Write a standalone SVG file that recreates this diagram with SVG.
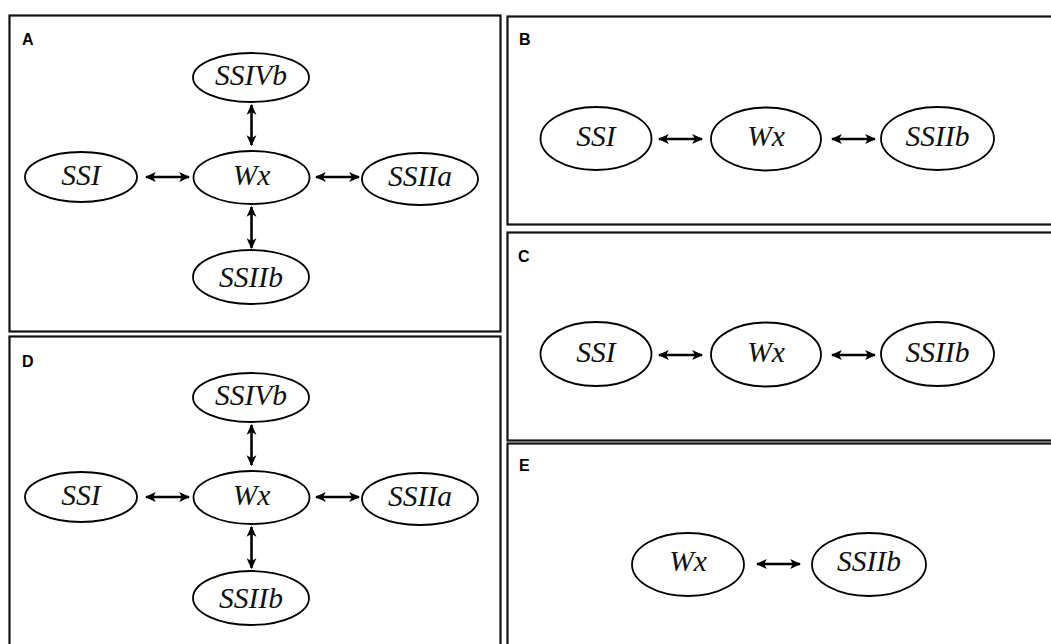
<svg xmlns="http://www.w3.org/2000/svg" width="1051" height="644" viewBox="0 0 1051 644">
  <style>
    .frame { fill: none; stroke: #111; stroke-width: 2.2; }
    .node ellipse { fill: #fff; stroke: #000; stroke-width: 1.8; }
    .node text { font-family: "Liberation Serif", "Times New Roman", serif; font-style: italic; font-size: 29.5px; fill: #111; text-anchor: middle; }
    .tag { font-family: "Liberation Sans", Arial, sans-serif; font-weight: bold; font-size: 16px; fill: #000; }
    .link { stroke: #000; stroke-width: 2.6; fill: none; marker-start: url(#head); marker-end: url(#head); }
  </style>
  <defs>
    <marker id="head" viewBox="0 0 10 10" refX="9" refY="5" markerWidth="4.2" markerHeight="4.2" orient="auto-start-reverse" markerUnits="strokeWidth">
      <path d="M0,0.5 L10,5 L0,9.5 L2.5,5 Z" fill="#000"/>
    </marker>
  </defs>
  <rect width="1051" height="644" fill="#fff"/>

  <!-- panel frames -->
  <g id="frames">
    <rect class="frame" x="9.5" y="15.5" width="491" height="316"/>
    <rect class="frame" x="9.5" y="336.5" width="491" height="320"/>
    <rect class="frame" x="507.5" y="16.5" width="560" height="208"/>
    <rect class="frame" x="507.5" y="232.5" width="560" height="208"/>
    <rect class="frame" x="507.5" y="443.5" width="560" height="220"/>
  </g>

  <!-- panel letters -->
  <g id="tags">
    <text class="tag" x="22" y="45">A</text>
    <text class="tag" x="519" y="45">B</text>
    <text class="tag" x="518" y="262">C</text>
    <text class="tag" x="22" y="367">D</text>
    <text class="tag" x="519" y="471">E</text>
  </g>

  <!-- connectors -->
  <g id="connectors">
    <line class="link" x1="146" y1="177" x2="189" y2="177"/>
    <line class="link" x1="316" y1="177" x2="359" y2="177"/>
    <line class="link" x1="251.5" y1="105" x2="251.5" y2="145"/>
    <line class="link" x1="251.5" y1="207" x2="251.5" y2="248"/>

    <line class="link" x1="146" y1="497" x2="189" y2="497"/>
    <line class="link" x1="316" y1="497" x2="359" y2="497"/>
    <line class="link" x1="251.5" y1="425" x2="251.5" y2="465"/>
    <line class="link" x1="251.5" y1="527" x2="251.5" y2="568"/>

    <line class="link" x1="659" y1="139" x2="702" y2="139"/>
    <line class="link" x1="832" y1="139" x2="875" y2="139"/>

    <line class="link" x1="659" y1="355" x2="702" y2="355"/>
    <line class="link" x1="832" y1="355" x2="875" y2="355"/>

    <line class="link" x1="757" y1="564" x2="800" y2="564"/>
  </g>

  <!-- panel A -->
  <g id="a-ssivb" class="node"><ellipse cx="251" cy="77.5" rx="58" ry="24.5"/><text x="251" y="85">SSIVb</text></g>
  <g id="a-ssi" class="node"><ellipse cx="81" cy="177" rx="56" ry="25"/><text x="81" y="184.5">SSI</text></g>
  <g id="a-wx" class="node"><ellipse cx="251.5" cy="177.5" rx="58" ry="26.5"/><text x="251.5" y="185">Wx</text></g>
  <g id="a-ssiia" class="node"><ellipse cx="420" cy="179" rx="58" ry="26"/><text x="420" y="186">SSIIa</text></g>
  <g id="a-ssiib" class="node"><ellipse cx="251" cy="277" rx="58" ry="27"/><text x="251" y="287">SSIIb</text></g>

  <!-- panel D -->
  <g id="d-ssivb" class="node"><ellipse cx="251" cy="397.5" rx="58" ry="24.5"/><text x="251" y="405">SSIVb</text></g>
  <g id="d-ssi" class="node"><ellipse cx="81" cy="497" rx="56" ry="25"/><text x="81" y="504.5">SSI</text></g>
  <g id="d-wx" class="node"><ellipse cx="251.5" cy="497.5" rx="58" ry="26.5"/><text x="251.5" y="505">Wx</text></g>
  <g id="d-ssiia" class="node"><ellipse cx="420" cy="499" rx="58" ry="26"/><text x="420" y="506">SSIIa</text></g>
  <g id="d-ssiib" class="node"><ellipse cx="251" cy="598" rx="58" ry="27"/><text x="251" y="608">SSIIb</text></g>

  <!-- panel B -->
  <g id="b-ssi" class="node"><ellipse cx="596" cy="138.5" rx="55.5" ry="31.5"/><text x="596" y="146">SSI</text></g>
  <g id="b-wx" class="node"><ellipse cx="766" cy="139" rx="55" ry="31.5"/><text x="766" y="146">Wx</text></g>
  <g id="b-ssiib" class="node"><ellipse cx="937.5" cy="138.5" rx="56.5" ry="31.5"/><text x="937.5" y="146">SSIIb</text></g>

  <!-- panel C -->
  <g id="c-ssi" class="node"><ellipse cx="596" cy="354" rx="55.5" ry="32"/><text x="596" y="362">SSI</text></g>
  <g id="c-wx" class="node"><ellipse cx="766" cy="354.5" rx="55" ry="32"/><text x="766" y="362">Wx</text></g>
  <g id="c-ssiib" class="node"><ellipse cx="937.5" cy="354" rx="56.5" ry="32"/><text x="937.5" y="362">SSIIb</text></g>

  <!-- panel E -->
  <g id="e-wx" class="node"><ellipse cx="688" cy="564.5" rx="56" ry="31.5"/><text x="688" y="571">Wx</text></g>
  <g id="e-ssiib" class="node"><ellipse cx="869" cy="564.5" rx="57" ry="31.5"/><text x="869" y="571">SSIIb</text></g>
</svg>
